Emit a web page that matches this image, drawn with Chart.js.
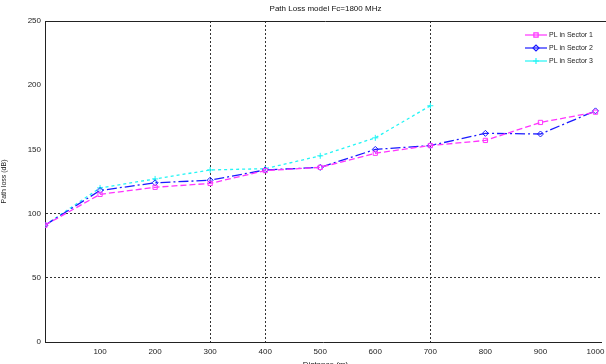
<!DOCTYPE html>
<html>
<head>
<meta charset="utf-8">
<script src="https://cdn.jsdelivr.net/npm/chart.js@4"></script>
<style>
  html, body { margin: 0; padding: 0; background: #fff; }
  #wrap { width: 606px; height: 364px; position: relative; }
</style>
</head>
<body>
<div id="wrap"><canvas id="plChart"></canvas></div>
<script>
// distances (m)
const distances = [0, 100, 200, 300, 400, 500, 600, 700, 800, 900, 1000];
const distances3 = [0, 100, 200, 300, 400, 500, 600, 700];

// path loss (dB) per sector
const sector1 = [91, 115, 120.5, 123.5, 133.5, 136, 147, 153, 157, 171, 179];
const sector2 = [91, 118, 124, 126, 134, 136, 150, 153, 162.5, 162, 180];
const sector3 = [91, 120, 127, 134, 135, 145, 159, 184];

const seriesNames = ["PL in Sector 1", "PL in Sector 2", "PL in Sector 3"];
const xTicks = [0, 100, 200, 300, 400, 500, 600, 700, 800, 900, 1000];
const yTicks = [0, 50, 100, 150, 200, 250];
const xGridAt = [300, 400, 700];
const yGridAt = [50, 100];

const toXY = (xs, ys) => xs.map((x, i) => ({ x: x, y: ys[i] }));

const styles = [
  { color: "#ff33ff", dash: [6, 3], point: "rect" },
  { color: "#1a1aff", dash: [10, 3, 2, 3], point: "rectRot" },
  { color: "#22f5f5", dash: [3, 3], point: "cross" },
];

// title, top box line, x label and legend
const extras = {
  id: "extras",
  afterDraw(chart) {
    const { ctx, chartArea: a } = chart;
    ctx.save();
    ctx.strokeStyle = "#222";
    ctx.lineWidth = 1;
    ctx.beginPath();
    ctx.moveTo(a.left, a.top + 0.5);
    ctx.lineTo(606, a.top + 0.5);
    ctx.stroke();

    ctx.fillStyle = "#111";
    ctx.font = "8px 'Liberation Sans'";
    ctx.textAlign = "center";
    ctx.textBaseline = "middle";
    ctx.fillText("Path Loss model Fc=1800 MHz", (a.left + 606) / 2, 9);

    ctx.textBaseline = "top";
    ctx.fillText("Distance (m)", (a.left + 606) / 2, 361);

    // legend
    ctx.textAlign = "left";
    ctx.textBaseline = "middle";
    ctx.font = "7px 'Liberation Sans'";
    const rows = [35, 48, 61];
    chart.data.datasets.forEach((ds, i) => {
      const y = rows[i];
      ctx.strokeStyle = ds.borderColor;
      ctx.fillStyle = "rgba(0,0,0,0)";
      ctx.lineWidth = 1.2;
      ctx.beginPath();
      ctx.moveTo(525, y);
      ctx.lineTo(547, y);
      ctx.stroke();
      Chart.helpers.drawPoint(ctx, { pointStyle: ds.pointStyle, radius: 3, borderWidth: 1 }, 536, y);
      ctx.fillStyle = "#222";
      ctx.fillText(ds.label, 549, y);
    });
    ctx.restore();
  },
};

const datasets = [
  toXY(distances, sector1),
  toXY(distances, sector2),
  toXY(distances3, sector3),
].map((d, i) => ({
  label: seriesNames[i],
  data: d,
  borderColor: styles[i].color,
  backgroundColor: "transparent",
  borderDash: styles[i].dash,
  borderWidth: 1.3,
  pointStyle: styles[i].point,
  pointRadius: 3,
  pointBorderWidth: 1,
  pointBorderColor: styles[i].color,
  pointBackgroundColor: "transparent",
  tension: 0,
}));

const config = {
  type: "line",
  data: { datasets: datasets },
  plugins: [extras],
  options: {
    responsive: false,
    animation: false,
    events: [],
    layout: { padding: { top: 21, left: 0, right: 0, bottom: 0 } },
    plugins: {
      legend: { display: false },
      title: { display: false },
      tooltip: { enabled: false },
    },
    scales: {
      x: {
        type: "linear",
        min: 0,
        max: 1010,
        afterBuildTicks: (s) => { s.ticks = xTicks.map((v) => ({ value: v })); },
        ticks: {
          autoSkip: false,
          maxRotation: 0,
          padding: 5,
          color: "#222",
          font: { family: "Liberation Sans", size: 8 },
          callback: (v) => (v === 0 ? "" : v),
        },
        grid: {
          drawTicks: false,
          color: (c) => (c.tick && xGridAt.includes(c.tick.value) ? "#333" : "transparent"),
          lineWidth: 1,
        },
        border: { display: true, color: "#222", width: 1, dash: [2, 2] },
        afterFit: (s) => { s.height = 22; s.paddingLeft = 0; s.paddingRight = 0; },
      },
      y: {
        min: 0,
        max: 250,
        afterBuildTicks: (s) => { s.ticks = yTicks.map((v) => ({ value: v })); },
        ticks: {
          padding: 4,
          color: "#222",
          font: { family: "Liberation Sans", size: 8 },
        },
        grid: {
          drawTicks: false,
          color: (c) => (c.tick && yGridAt.includes(c.tick.value) ? "#333" : "transparent"),
          lineWidth: 1,
        },
        border: { display: true, color: "#222", width: 1, dash: [2, 2] },
        title: {
          display: true,
          text: "Path loss (dB)",
          color: "#222",
          font: { family: "Liberation Sans", size: 7 },
          padding: { top: 0, bottom: 0 },
        },
        afterFit: (s) => { s.width = 45; s.paddingTop = 0; s.paddingBottom = 0; },
      },
    },
  },
};

const canvas = document.getElementById("plChart");
canvas.width = 606;
canvas.height = 364;
const plChart = new Chart(canvas, config);
</script>
</body>
</html>
